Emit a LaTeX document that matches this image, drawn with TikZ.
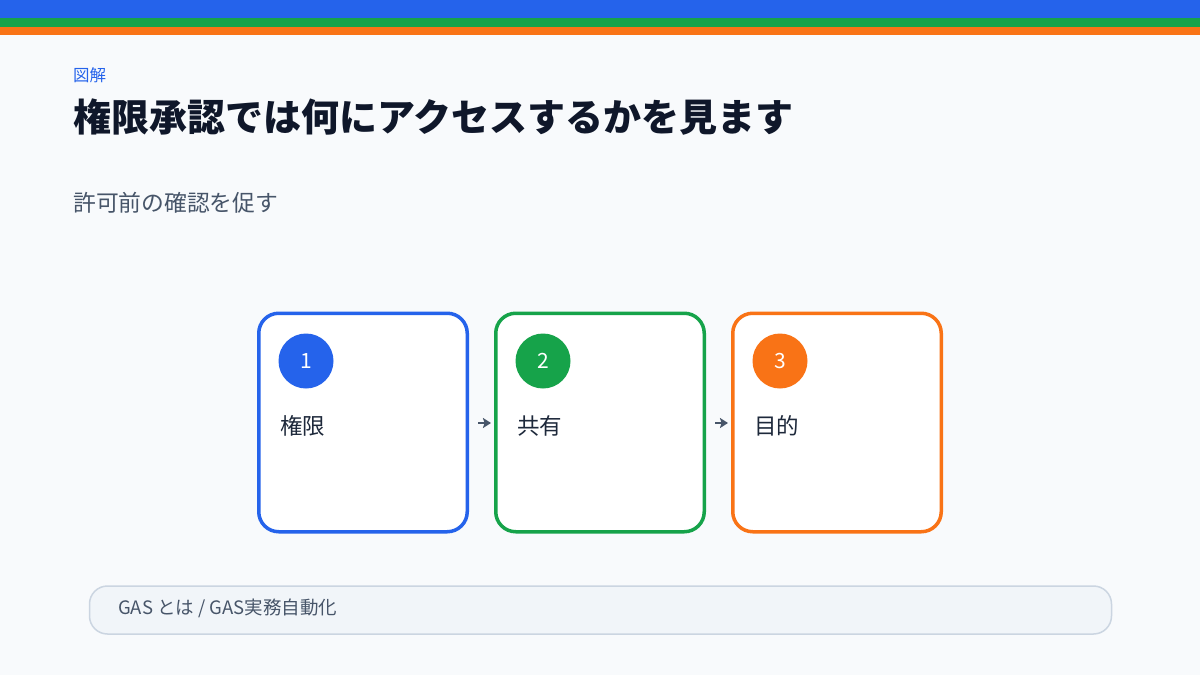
\documentclass[tikz,border=0pt]{standalone}
\usepackage{fontspec}
\setmainfont{Noto Sans CJK JP}
\usetikzlibrary{arrows.meta}
\definecolor{bg}{HTML}{F8FAFC}
\definecolor{cblue}{HTML}{2563EB}
\definecolor{cgreen}{HTML}{16A34A}
\definecolor{corange}{HTML}{F97316}
\definecolor{ctitle}{HTML}{0F172A}
\definecolor{csub}{HTML}{475569}
\definecolor{clabel}{HTML}{1E293B}
\definecolor{footfill}{HTML}{F1F5F9}
\definecolor{footline}{HTML}{CBD5E1}
\tikzset{
  card/.style={draw=#1, line width=3.5pt, fill=white, rounded corners=20pt, minimum width=208.5pt, minimum height=218.5pt, inner sep=0pt},
  badge/.style={circle, fill=#1, minimum size=55pt, inner sep=0pt, text=white, font=\fontsize{21}{24}\selectfont},
  cardlabel/.style={anchor=west, inner sep=0pt, text=clabel, font=\fontsize{22.5}{26}\selectfont},
  flow/.style={-{Stealth[length=8pt,width=10pt,inset=1.5pt]}, line width=2.5pt, draw=csub, shorten <=9pt, shorten >=3pt},
}
\begin{document}
\begin{tikzpicture}[x=1pt,y=-1pt]
\useasboundingbox (0,0) rectangle (1200,675);
\fill[bg] (0,0) rectangle (1200,675);
\fill[cblue] (0,0) rectangle (1200,18);
\fill[cgreen] (0,18) rectangle (1200,27);
\fill[corange] (0,27) rectangle (1200,35);
\node[anchor=west, inner sep=0pt, text=cblue, font=\fontsize{16.5}{18}\selectfont] (kicker) at (73,75) {図解};
\node[anchor=west, inner sep=0pt, text=ctitle, font=\fontsize{38}{42}\selectfont\bfseries] (title) at (73,117) {権限承認では何にアクセスするかを見ます};
\node[anchor=west, inner sep=0pt, text=csub, font=\fontsize{22.8}{26}\selectfont] (sub) at (73,203) {許可前の確認を促す};
\node[card=cblue] (c1) at (363,422.5) {};
\node[card=cgreen] (c2) at (600,422.5) {};
\node[card=corange] (c3) at (837,422.5) {};
\node[badge=cblue] (b1) at (306,361) {1};
\node[badge=cgreen] (b2) at (543,361) {2};
\node[badge=corange] (b3) at (780,361) {3};
\node[cardlabel] (l1) at (280,426) {権限};
\node[cardlabel] (l2) at (517,426) {共有};
\node[cardlabel] (l3) at (754,426) {目的};
\draw[flow] (c1.east |- 0,423) -- (c2.west |- 0,423);
\draw[flow] (c2.east |- 0,423) -- (c3.west |- 0,423);
\node[draw=footline, line width=1.5pt, fill=footfill, rounded corners=18pt, minimum width=1022pt, minimum height=48pt, inner sep=0pt] (foot) at (600.5,610) {};
\node[anchor=west, inner sep=0pt, text=csub, font=\fontsize{18.5}{22}\selectfont] (foottext) at (118,608) {GAS とは / GAS実務自動化};
\end{tikzpicture}
\end{document}
